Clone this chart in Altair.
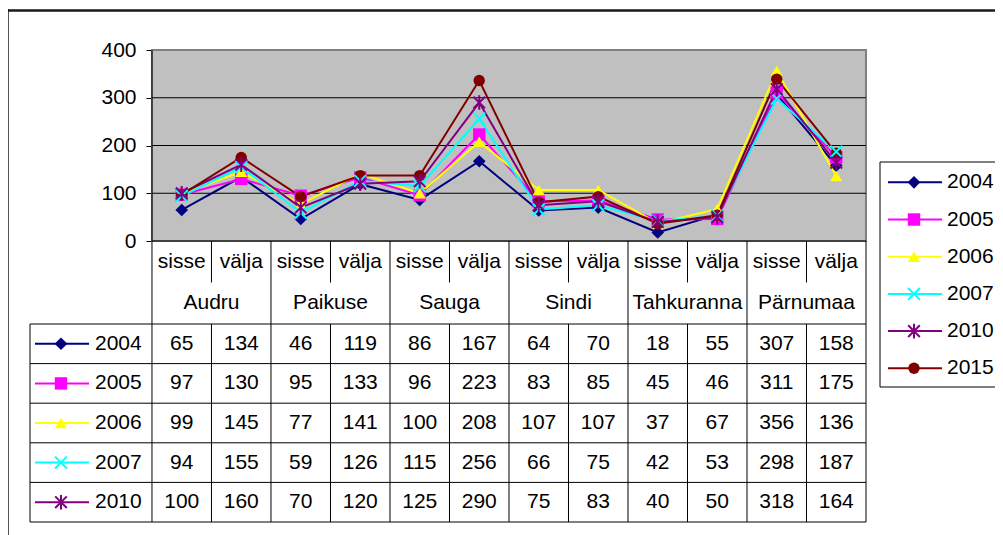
import altair as alt
import pandas as pd

# ---------------- data ----------------
groups = ["Audru", "Paikuse", "Sauga", "Sindi", "Tahkuranna", "Pärnumaa"]
kinds = ["sisse", "välja"]
years = ["2004", "2005", "2006", "2007", "2010", "2015"]
v2004 = [65, 134, 46, 119, 86, 167, 64, 70, 18, 55, 307, 158]
v2005 = [97, 130, 95, 133, 96, 223, 83, 85, 45, 46, 311, 175]
v2006 = [99, 145, 77, 141, 100, 208, 107, 107, 37, 67, 356, 136]
v2007 = [94, 155, 59, 126, 115, 256, 66, 75, 42, 53, 298, 187]
v2010 = [100, 160, 70, 120, 125, 290, 75, 83, 40, 50, 318, 164]
v2015 = [97, 175, 93, 137, 137, 336, 81, 93, 36, 54, 339, 184]
series = dict(zip(years, [v2004, v2005, v2006, v2007, v2010, v2015]))
table_years = years[:5]  # rows visible in data table
y_ticks = [0, 100, 200, 300, 400]

# ---------------- styles ----------------
colors = ["#000080", "#FF00FF", "#FFFF00", "#00FFFF", "#800080", "#800000"]
X_PATH = "M-1,-1L1,1M-1,1L1,-1"
STAR_PATH = "M-1,-1L1,1M-1,1L1,-1M0,-1.25L0,1.25"
shapes = ["diamond", "square", "triangle-up", X_PATH, STAR_PATH, "circle"]
sizes = [160, 130, 170, 120, 120, 120]
stroked_years = ["2007", "2010"]
FONT = "Liberation Sans"
FS = 21

n = len(groups) * len(kinds)
KEY_W = 2.05  # width of the table key column, in column units

x_scale = alt.Scale(domain=[-KEY_W, n], nice=False, zero=False)
val_scale = alt.Scale(domain=[y_ticks[0], y_ticks[-1]], range=[191, 0], nice=False)
row_scale = alt.Scale(domain=[0, 2, 7], range=[191, 274, 472], nice=False, zero=False)
leg_scale = alt.Scale(domain=[0, 5], range=[132.3, 318.3], nice=False, zero=False)

color_enc = alt.Color("year:N", scale=alt.Scale(domain=years, range=colors), legend=None)
shape_enc = alt.Shape("year:N", scale=alt.Scale(domain=years, range=shapes), legend=None)
size_enc = alt.Size("year:O", scale=alt.Scale(domain=years, range=sizes), legend=None)

# ---------------- tables ----------------
line_df = pd.DataFrame(
    [{"year": y, "pos": i + 0.5, "value": v} for y in years for i, v in enumerate(series[y])]
)
bg_df = pd.DataFrame({"x0": [0], "x1": [n], "y0": [y_ticks[0]], "y1": [y_ticks[-1]]})
grid_df = pd.DataFrame({"v": y_ticks[:-1], "x0": 0, "x1": n})
left_df = pd.DataFrame({"x": [0], "y0": [y_ticks[0]], "y1": [y_ticks[-1]]})

vl = []
for b in range(n + 1):
    if b % 2 == 0:
        vl.append({"x": b, "r0": 0, "r1": 7})
    else:
        vl.append({"x": b, "r0": 0, "r1": 1})
        vl.append({"x": b, "r0": 2, "r1": 7})
vl.append({"x": -KEY_W, "r0": 2, "r1": 7})
vline_df = pd.DataFrame(vl)
hline_df = pd.DataFrame({"r": list(range(2, 3 + len(table_years))), "x0": -KEY_W, "x1": n})

hdr_df = pd.DataFrame([{"pos": i + 0.5, "row": 0.5, "t": kinds[i % 2]} for i in range(n)])
grp_df = pd.DataFrame([{"pos": 2 * g + 1, "row": 1.5, "t": name} for g, name in enumerate(groups)])
cell_df = pd.DataFrame(
    [{"pos": i + 0.5, "row": 2.5 + ti, "t": str(v)}
     for ti, y in enumerate(table_years) for i, v in enumerate(series[y])]
)
key_df = pd.DataFrame({"year": table_years, "row": [2.5 + i for i in range(len(table_years))]})
leg_df = pd.DataFrame({"year": years, "li": list(range(len(years)))})
one = pd.DataFrame({"a": [0]})

X = lambda f: alt.X(f, scale=x_scale, axis=None)

# ---------------- layers ----------------
frame_top = alt.Chart(one).mark_rule(color="#1a1a1a", strokeWidth=2.5).encode(
    x=alt.value(-22), x2=alt.value(1010), y=alt.value(-39.5))
frame_left = alt.Chart(one).mark_rule(color="#1a1a1a", strokeWidth=2.5).encode(
    x=alt.value(-22.5), y=alt.value(-41), y2=alt.value(520))

bg = alt.Chart(bg_df).mark_rect(fill="#C0C0C0", stroke="#808080", strokeWidth=2).encode(
    x=X("x0:Q"), x2="x1:Q",
    y=alt.Y("y0:Q", scale=val_scale,
            axis=alt.Axis(values=y_ticks, offset=-122, domain=False, grid=False,
                          tickSize=6, tickColor="black", tickWidth=1,
                          labelFont=FONT, labelFontSize=FS, labelColor="black",
                          labelPadding=10, labelFlush=False, title="")),
    y2="y1:Q")

grid = alt.Chart(grid_df).mark_rule(color="black", strokeWidth=1).encode(
    x=X("x0:Q"), x2="x1:Q", y=alt.Y("v:Q", scale=val_scale, axis=None))
left_line = alt.Chart(left_df).mark_rule(color="black", strokeWidth=1).encode(
    x=X("x:Q"), y=alt.Y("y0:Q", scale=val_scale, axis=None), y2="y1:Q")

lines = alt.Chart(line_df).mark_line(strokeWidth=2).encode(
    x=X("pos:Q"), y=alt.Y("value:Q", scale=val_scale, axis=None), color=color_enc,
    order=alt.Order("pos:Q"))


def points(df, x_enc, y_enc):
    filled = alt.Chart(df).mark_point(filled=True, opacity=1).encode(
        x=x_enc, y=y_enc, color=color_enc, shape=shape_enc, size=size_enc
    ).transform_filter(~alt.FieldOneOfPredicate(field="year", oneOf=stroked_years))
    stroked = alt.Chart(df).mark_point(filled=False, strokeWidth=2, opacity=1).encode(
        x=x_enc, y=y_enc, color=color_enc, shape=shape_enc, size=size_enc
    ).transform_filter(alt.FieldOneOfPredicate(field="year", oneOf=stroked_years))
    return [filled, stroked]


pts = points(line_df, X("pos:Q"), alt.Y("value:Q", scale=val_scale, axis=None))

vlines = alt.Chart(vline_df).mark_rule(color="black", strokeWidth=1).encode(
    x=X("x:Q"), y=alt.Y("r0:Q", scale=row_scale, axis=None), y2="r1:Q")
hlines = alt.Chart(hline_df).mark_rule(color="black", strokeWidth=1).encode(
    x=X("x0:Q"), x2="x1:Q", y=alt.Y("r:Q", scale=row_scale, axis=None))

txt = dict(font=FONT, fontSize=FS, color="black", baseline="middle", align="center")
hdr = alt.Chart(hdr_df).mark_text(**txt).encode(
    x=X("pos:Q"), y=alt.Y("row:Q", scale=row_scale, axis=None), text="t:N")
grp = alt.Chart(grp_df).mark_text(**txt).encode(
    x=X("pos:Q"), y=alt.Y("row:Q", scale=row_scale, axis=None), text="t:N")
cells = alt.Chart(cell_df).mark_text(**txt).encode(
    x=X("pos:Q"), y=alt.Y("row:Q", scale=row_scale, axis=None), text="t:N")

key_y = alt.Y("row:Q", scale=row_scale, axis=None)
key_line = alt.Chart(key_df).mark_rule(strokeWidth=2).encode(
    x=alt.value(5), x2=alt.value(59), y=key_y, color=color_enc)
key_pts = points(key_df, alt.value(31), key_y)
key_txt = alt.Chart(key_df).mark_text(font=FONT, fontSize=FS, color="black",
                                      baseline="middle", align="left").encode(
    x=alt.value(65), y=key_y, text="year:N")

leg_box = alt.Chart(one).mark_rect(fill="white", stroke="black", strokeWidth=1).encode(
    x=alt.value(850), x2=alt.value(1010), y=alt.value(112), y2=alt.value(337))
leg_y = alt.Y("li:Q", scale=leg_scale, axis=None)
leg_line = alt.Chart(leg_df).mark_rule(strokeWidth=2).encode(
    x=alt.value(858), x2=alt.value(912), y=leg_y, color=color_enc)
leg_pts = points(leg_df, alt.value(884), leg_y)
leg_txt = alt.Chart(leg_df).mark_text(font=FONT, fontSize=FS, color="black",
                                      baseline="middle", align="left").encode(
    x=alt.value(917), y=leg_y, text="year:N")

chart = alt.layer(
    frame_top, frame_left, leg_box, bg, grid, left_line, lines, *pts,
    vlines, hlines, hdr, grp, cells, key_line, *key_pts, key_txt,
    leg_line, *leg_pts, leg_txt,
).resolve_scale(y="independent").properties(
    width=836, height=472,
    padding={"left": 22, "top": 42, "right": 129, "bottom": 13},
    autosize=alt.AutoSizeParams(type="none"),
    background="white",
).configure_view(stroke="transparent")

chart.save("out.html", embed_options={"renderer": "svg", "actions": False})
